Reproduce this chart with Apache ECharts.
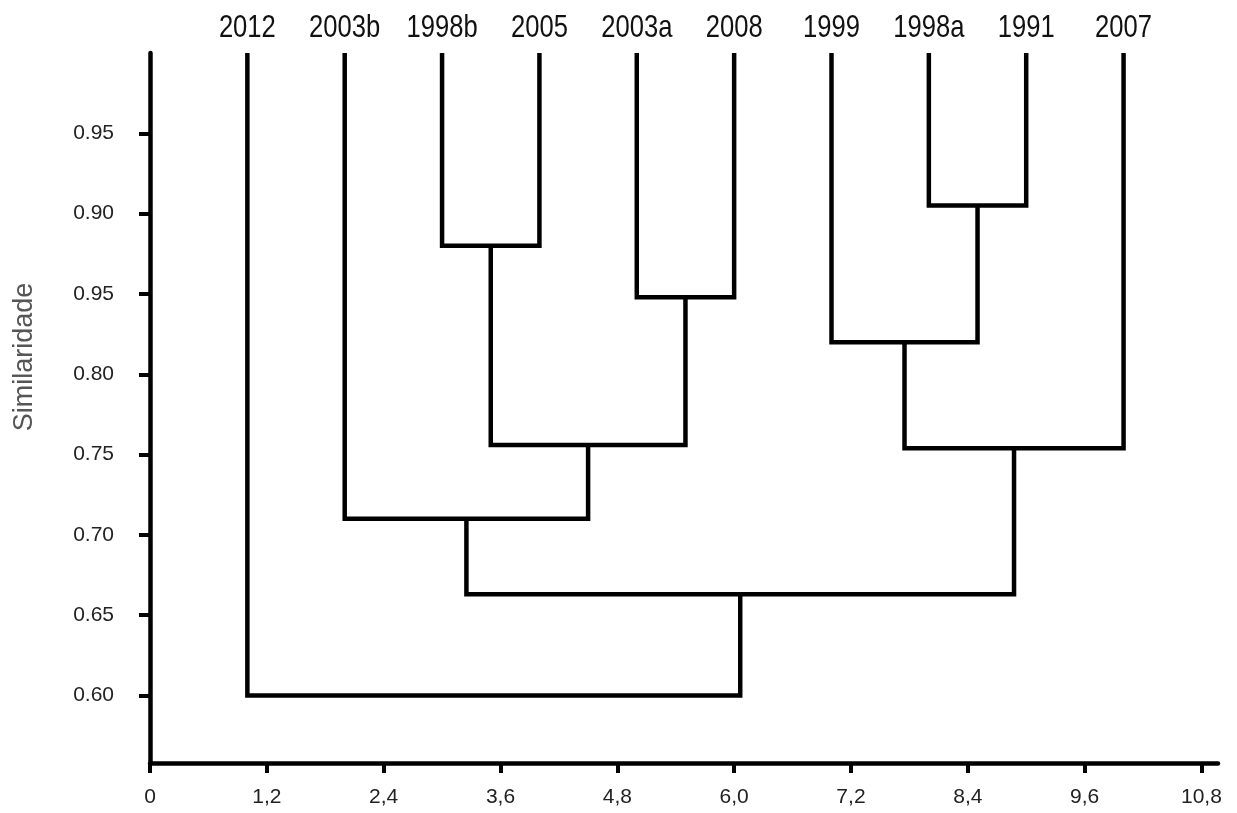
<!DOCTYPE html>
<html lang="pt">
<head>
    <meta charset="UTF-8">
    <title>Dendrograma</title>
    <script src="https://cdn.jsdelivr.net/npm/echarts@6.0.0/dist/echarts.min.js"></script>
    <style>
        html, body { margin: 0; padding: 0; background: #fff; }
        #chart { width: 1237px; height: 813px; }
    </style>
</head>
<body>
<div id="chart"></div>
<script>
    // leaves, left to right
    var leaves = ['2012', '2003b', '1998b', '2005', '2003a', '2008', '1999', '1998a', '1991', '2007'];
    var leafTop = 1.0;

    // linkage: ids 0-9 are leaves, 10+ are the merges in this order
    var mergeLeft   = [2, 4, 10, 1, 7, 6, 15, 13, 0];
    var mergeRight  = [3, 5, 11, 12, 8, 14, 9, 16, 17];
    var mergeHeight = [0.880, 0.848, 0.756, 0.710, 0.905, 0.820, 0.754, 0.663, 0.600];

    // axis ticks (the printed labels are kept as in the original figure)
    var xTicks = [0, 1.2, 2.4, 3.6, 4.8, 6.0, 7.2, 8.4, 9.6, 10.8];
    var xTickLabels = ['0', '1,2', '2,4', '3,6', '4,8', '6,0', '7,2', '8,4', '9,6', '10,8'];
    var yTicks = [0.60, 0.65, 0.70, 0.75, 0.80, 0.85, 0.90, 0.95];
    var yTickLabels = ['0.60', '0.65', '0.70', '0.75', '0.80', '0.95', '0.90', '0.95'];

    var sans = "'Liberation Sans', Arial, sans-serif";

    function labelFor(ticks, labels, v) {
        for (var i = 0; i < ticks.length; i++) {
            if (Math.abs(ticks[i] - v) < 1e-6) return labels[i];
        }
        return '';
    }

    // positions of every node
    var nodeX = [], nodeY = [];
    leaves.forEach(function (n, i) { nodeX.push(i + 1); nodeY.push(leafTop); });
    var series = [];
    mergeLeft.forEach(function (a, k) {
        var b = mergeRight[k], h = mergeHeight[k];
        series.push({
            type: 'line',
            data: [[nodeX[a], nodeY[a]], [nodeX[a], h], [nodeX[b], h], [nodeX[b], nodeY[b]]],
            symbol: 'none',
            silent: true,
            lineStyle: { color: '#000', width: 4.5, join: 'miter', cap: 'butt' }
        });
        nodeX.push((nodeX[a] + nodeX[b]) / 2);
        nodeY.push(h);
    });

    // leaf names, narrowed like the original condensed face
    series.push({
        type: 'custom',
        silent: true,
        clip: false,
        data: leaves.map(function (n, i) { return [i + 1, leafTop]; }),
        renderItem: function (params, api) {
            var p = api.coord([api.value(0), api.value(1)]);
            return {
                type: 'text',
                x: p[0],
                y: p[1] - 9,
                scaleX: 0.8,
                style: {
                    text: leaves[params.dataIndex],
                    fill: '#111',
                    fontSize: 32,
                    fontFamily: sans,
                    align: 'center',
                    verticalAlign: 'bottom'
                }
            };
        }
    });

    var chart = echarts.init(document.getElementById('chart'));
    chart.setOption({
        animation: false,
        grid: { left: 150, right: 19, top: 53, bottom: 50 },
        xAxis: {
            type: 'value',
            min: 0,
            max: 10.97,
            splitLine: { show: false },
            axisLine: { onZero: false, lineStyle: { color: '#000', width: 4.5 } },
            axisTick: { customValues: xTicks, length: 10, lineStyle: { color: '#000', width: 4 } },
            axisLabel: {
                customValues: xTicks,
                margin: 24,
                color: '#222',
                fontSize: 21,
                fontFamily: sans,
                formatter: function (v) { return labelFor(xTicks, xTickLabels, v); }
            }
        },
        yAxis: {
            type: 'value',
            min: 0.558,
            max: 1.0,
            splitLine: { show: false },
            axisLine: { onZero: false, lineStyle: { color: '#000', width: 4.5 } },
            axisTick: { customValues: yTicks, length: 11, lineStyle: { color: '#000', width: 4 } },
            axisLabel: {
                customValues: yTicks,
                margin: 36,
                color: '#222',
                fontSize: 21,
                fontFamily: sans,
                formatter: function (v) { return labelFor(yTicks, yTickLabels, v); }
            }
        },
        graphic: [{
            type: 'text',
            x: 25,
            y: 357,
            rotation: Math.PI / 2,
            style: {
                text: 'Similaridade',
                fill: '#555',
                fontSize: 27,
                fontFamily: sans,
                align: 'center',
                verticalAlign: 'middle'
            }
        }],
        series: series
    });
</script>
</body>
</html>
